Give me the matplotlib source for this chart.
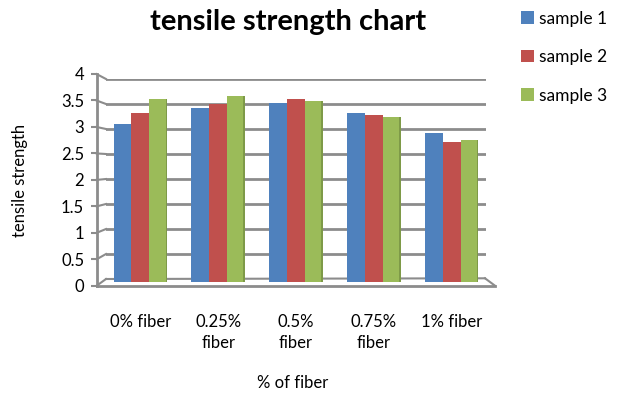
import numpy as np
import matplotlib
matplotlib.use('Agg')
from matplotlib import pyplot as plt

plt.rcParams['font.family'] = ['Lato', 'DejaVu Sans']

W, H = 622, 398

categories = ['0% fiber', '0.25%\nfiber', '0.5%\nfiber', '0.75%\nfiber', '1% fiber']
series_names = ['sample 1', 'sample 2', 'sample 3']
sample1 = [3.08, 3.39, 3.50, 3.29, 2.91]
sample2 = [3.29, 3.48, 3.56, 3.25, 2.72]
sample3 = [3.57, 3.63, 3.52, 3.21, 2.76]
y_ticks = [0, 0.5, 1, 1.5, 2, 2.5, 3, 3.5, 4]

colors = ['#4F81BD', '#C0504D', '#9BBB59']
grid_col = '#8c8c8c'


def px_rect(x0, y0, x1, y1):
    # pixel box (top-left origin) -> figure fraction rect
    return [x0 / W, 1 - y1 / H, (x1 - x0) / W, (y1 - y0) / H]


fig = plt.figure(figsize=(W / 100, H / 100), dpi=100)

# overlay in pixel coordinates for the 3d frame (floor, wall ticks)
ov = fig.add_axes([0, 0, 1, 1], zorder=0)
ov.set_xlim(0, W)
ov.set_ylim(H, 0)
ov.axis('off')

# back wall with gridlines
wall = fig.add_axes(px_rect(106, 79, 486, 279), zorder=1)
wall.set_ylim(0, 4)
wall.set_xlim(0, 1)
wall.set_yticks(y_ticks)
wall.set_xticks([])
wall.tick_params(left=False, labelleft=False)
for s in wall.spines.values():
    s.set_visible(False)
wall.grid(axis='y', color=grid_col, lw=2)
wall.patch.set_alpha(0)

# front value axis
front = fig.add_axes(px_rect(96.7, 74, 200, 285.7), zorder=2)
front.set_ylim(0, 4)
front.set_yticks(y_ticks)
front.set_yticklabels(['0', '0.5', '1', '1.5', '2', '2.5', '3', '3.5', '4'], fontsize=12)
front.set_xticks([])
front.tick_params(axis='y', direction='out', length=4, width=1.5, color=grid_col, pad=5)
for k in ['top', 'right', 'bottom']:
    front.spines[k].set_visible(False)
front.spines['left'].set_color(grid_col)
front.spines['left'].set_linewidth(2)
front.patch.set_alpha(0)

# wall ticks running from the front axis to the back wall
for v in y_ticks:
    yf = 285.7 - v * 52.9
    yb = 279 - v * 50
    ov.plot([96.7, 106], [yf, yb], color=grid_col, lw=1.5)

# floor
ov.plot([96.7, 495], [285.7, 285.7], color=grid_col, lw=2)
ov.plot([106, 485], [279, 278.3], color=grid_col, lw=1.5)
ov.plot([485, 495], [278.3, 285.7], color=grid_col, lw=1.5)

# bars
ax = fig.add_axes(px_rect(101.4, 76.9, 490.6, 281.7), zorder=3)
ax.set_ylim(0, 4)
ax.set_xlim(-0.5, 4.5)
ax.patch.set_alpha(0)
for s in ax.spines.values():
    s.set_visible(False)
ax.set_yticks([])
x = np.arange(len(categories))
bw = 0.229
for i, (vals, c, name) in enumerate(zip([sample1, sample2, sample3], colors, series_names)):
    ax.bar(x + (i - 1) * bw, vals, width=bw, color=c, label=name, linewidth=0)
# darker side edge on the green bars
ax.bar(x + bw + bw / 2 - 0.009, sample3, width=0.018, color='#7e9a48', linewidth=0)

ax.set_xticks(x)
ax.set_xticklabels(categories, fontsize=12, linespacing=1.45)
ax.tick_params(axis='x', length=0, pad=23)

fig.text(293 / W, 1 - 383 / H, '% of fiber', fontsize=12, ha='center', va='center')
fig.text(20 / W, 1 - 180 / H, 'tensile strength', fontsize=12, rotation=90,
         ha='center', va='center')
fig.text(288 / W, 1 - 22 / H, 'tensile strength chart', fontsize=21,
         fontweight='bold', ha='center', va='center')

handles, labels = ax.get_legend_handles_labels()
fig.legend(handles[:3], labels[:3], loc='upper left', bbox_to_anchor=(505 / W, 1 + 5 / H),
           frameon=False, fontsize=12.5, handlelength=0.75, handleheight=0.75,
           handletextpad=0.3, labelspacing=1.3)

fig.savefig('out.png', dpi=100)
